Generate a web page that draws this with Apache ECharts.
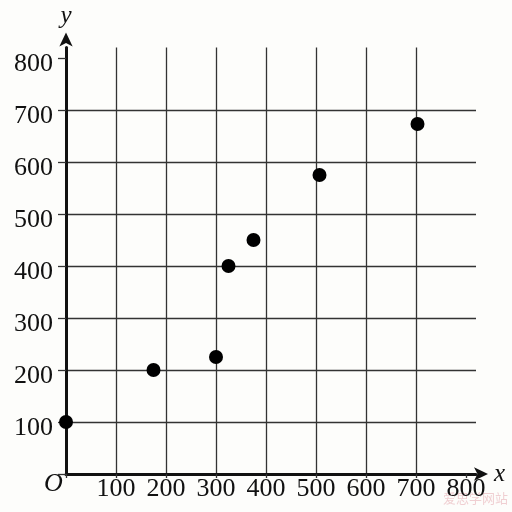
<!DOCTYPE html>
<html>
<head>
<meta charset="utf-8">
<script src="https://cdn.jsdelivr.net/npm/echarts@6/dist/echarts.min.js"></script>
<style>
html,body{margin:0;padding:0;background:#fdfdfb;}
#c{width:512px;height:512px;}
</style>
</head>
<body>
<div id="c"></div>
<script>
// Data
const xValues = [0, 175, 300, 325, 375, 507, 703];
const yValues = [100, 200, 225, 400, 450, 575, 673];
const xTickLabels = [100, 200, 300, 400, 500, 600, 700, 800];
const yTickLabels = [100, 200, 300, 400, 500, 600, 700, 800];
const gridTicks = [0, 100, 200, 300, 400, 500, 600, 700, 800];

const points = xValues.map((x, i) => [x, yValues[i]]);
const serif = '"Liberation Serif", "DejaVu Serif", serif';
const gridColor = '#333333';

const chart = echarts.init(document.getElementById('c'), null, {renderer: 'canvas'});
chart.setOption({
  backgroundColor: '#fdfdfb',
  animation: false,
  grid: {left: 66, right: 36, top: 47.6, bottom: 38, containLabel: false},
  xAxis: {
    type: 'value', min: 0, max: 820,
    name: 'x', nameLocation: 'end', nameGap: 18,
    nameTextStyle: {fontFamily: serif, fontStyle: 'italic', fontSize: 25, color: '#111', verticalAlign: 'middle', padding: [0,0,6,0]},
    axisLine: {show: true, onZero: false, lineStyle: {color: '#111', width: 3},
      symbol: ['none', 'arrow'], symbolSize: [10, 14], symbolOffset: [0, 12]},
    axisTick: {show: true, inside: false, length: 4, customValues: gridTicks, lineStyle: {color: gridColor, width: 1.3}},
    axisLabel: {customValues: xTickLabels, fontFamily: serif, fontSize: 26, color: '#111', margin: 2},
    splitLine: {show: true, showMinLine: false, showMaxLine: false, lineStyle: {color: gridColor, width: 1.3}}
  },
  yAxis: {
    type: 'value', min: 0, max: 820,
    name: 'y', nameLocation: 'end', nameGap: 19,
    nameTextStyle: {fontFamily: serif, fontStyle: 'italic', fontSize: 25, color: '#111'},
    axisLine: {show: true, onZero: false, lineStyle: {color: '#111', width: 3},
      symbol: ['none', 'arrow'], symbolSize: [10, 14], symbolOffset: [0, 15]},
    axisTick: {show: true, inside: false, length: 8, customValues: gridTicks, lineStyle: {color: gridColor, width: 1.3}},
    axisLabel: {
      customValues: yTickLabels, margin: 13,
      formatter: v => '{a|' + v + '}',
      rich: {a: {fontFamily: serif, fontSize: 26, color: '#111', padding: [12, 0, 0, 0]}}
    },
    splitLine: {show: true, showMinLine: false, showMaxLine: false, lineStyle: {color: gridColor, width: 1.3}}
  },
  series: [{
    type: 'scatter',
    data: points,
    symbol: 'circle',
    symbolSize: 14,
    itemStyle: {color: '#000', opacity: 1},
    z: 10
  }],
  graphic: [
    {type: 'text', left: 44, top: 471, style: {text: 'O', font: 'italic 26px ' + serif, fill: '#111'}},
    {type: 'text', left: 443, top: 492, style: {text: '爱思学网站', font: '13px "Noto Sans CJK SC"', fill: 'rgba(225,150,160,0.45)'}}
  ]
});
</script>
</body>
</html>
